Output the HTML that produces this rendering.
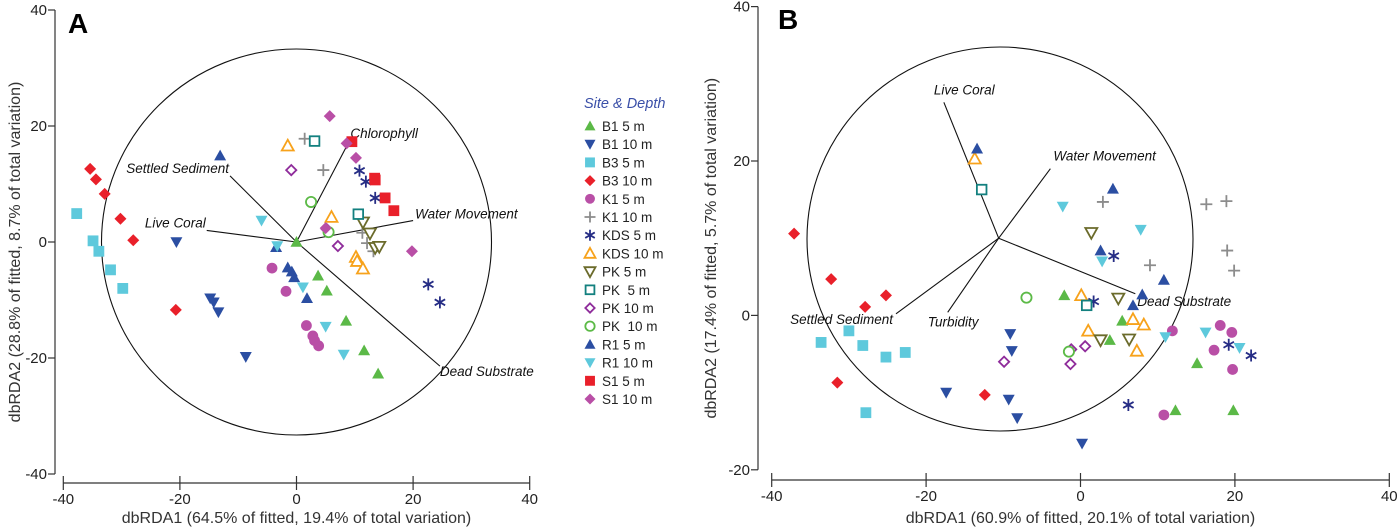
<!DOCTYPE html>
<html><head><meta charset="utf-8"><style>
html,body{margin:0;padding:0;background:#fff;}
svg{display:block;font-family:"Liberation Sans",Arial,sans-serif;}
</style></head><body>
<svg id="chart" width="1400" height="527" viewBox="0 0 1400 527" xmlns="http://www.w3.org/2000/svg"></svg>
<script>
// Group definitions
const groupNames = ["B1 5 m","B1 10 m","B3 5 m","B3 10 m","K1 5 m","K1 10 m","KDS 5 m","KDS 10 m","PK 5 m","PK  5 m","PK 10 m","PK  10 m","R1 5 m","R1 10 m","S1 5 m","S1 10 m"];
const groupShapes = ["up","down","square","diamond","circle","plus","star","upOpen","downOpen","squareOpen","diamondOpen","circleOpen","up","down","square","diamond"];
const groupColors = ["#5bb947","#2b4ea2","#5ec9dc","#e9202a","#b94fa6","#8c8c8c","#262d85","#f7a21b","#6b6b2b","#13807f","#8f2c9b","#5cba47","#2b4ea2","#5ec9dc","#e9202a","#b94fa6"];

// Panel A data (x, y per group)
const aX = [
 [0,3.7,5.2,8.5,11.6,14],
 [-20.6,-14.8,-14.2,-13.4,-8.7],
 [-37.7,-34.9,-33.9,-31.9,-29.8],
 [-35.4,-34.4,-32.9,-30.2,-28,-20.7],
 [-4.2,-1.8,1.7,2.8,3.1,3.8],
 [1.4,4.6,11.3,12.1,13.2],
 [10.8,11.9,13.5,22.6,24.6],
 [-1.5,6,10.2,10.4,11.4],
 [11.4,12.6,13.5,14.2],
 [3.1,10.6],
 [-0.9,5.2,7.1],
 [2.5,5.5],
 [-13.1,-3.5,-1.5,-0.8,-0.4,1.8],
 [-6,-3.3,1.1,5,8.1],
 [9.5,13.4,13.5,15.2,16.7],
 [5.7,8.6,10.2,19.8,5.0]
];
const aY = [
 [0,-5.8,-8.4,-13.6,-18.7,-22.7],
 [0,-9.7,-10.4,-12.1,-19.8],
 [4.9,0.2,-1.6,-4.8,-8],
 [12.6,10.8,8.3,4,0.3,-11.7],
 [-4.5,-8.5,-14.4,-16.2,-17,-17.9],
 [17.8,12.4,1.6,-0.2,-1.6],
 [12.3,10.4,7.6,-7.3,-10.4],
 [16.6,4.3,-2.6,-3.3,-4.6],
 [3.4,1.5,-1,-0.8],
 [17.4,4.8],
 [12.4,2.2,-0.7],
 [6.9,1.7],
 [14.9,-0.9,-4.4,-5.1,-6.1,-9.7],
 [3.7,-0.7,-7.8,-14.6,-19.4],
 [17.3,11,10.7,7.6,5.4],
 [21.7,17,14.5,-1.6,2.4]
];
const aVecNames = ["Chlorophyll","Settled Sediment","Live Coral","Water Movement","Dead Substrate"];
const aVecX = [8.9,-11.4,-15.4,20,24.6];
const aVecY = [17.1,11.4,2,3.7,-21.4];

// Panel B data
const bX = [
 [-2.1,5.4,3.8,15.1,12.3,19.8],
 [-9.1,-8.9,-17.4,-9.3,-8.2,0.2],
 [-30,-33.6,-28.2,-25.2,-22.7,-27.8],
 [-37.1,-32.3,-25.2,-27.9,-31.5,-12.4],
 [11.9,18.1,19.6,17.3,19.7,10.8],
 [2.9,16.3,18.9,19,19.9,9],
 [4.3,1.7,19.2,22.1,6.2],
 [-13.7,0.1,6.8,8.2,1,7.3],
 [1.4,4.9,2.6,6.3],
 [-12.8,0.8],
 [-9.9,-1.3,-1.2,0.6],
 [-7,-1.5],
 [-13.4,4.2,2.6,10.8,8,6.8],
 [-2.3,7.8,2.8,11,16.2,20.6],
 [],
 []
];
const bY = [
 [2.6,-0.7,-3.2,-6.2,-12.3,-12.3],
 [-2.4,-4.6,-10,-10.9,-13.3,-16.6],
 [-2,-3.5,-3.9,-5.4,-4.8,-12.6],
 [10.6,4.7,2.6,1.1,-8.7,-10.3],
 [-2,-1.3,-2.2,-4.5,-7,-12.9],
 [14.7,14.4,14.8,8.4,5.8,6.5],
 [7.7,1.8,-3.8,-5.2,-11.6],
 [20.3,2.6,-0.5,-1.2,-2,-4.6],
 [10.7,2.2,-3.2,-3.1],
 [16.3,1.3],
 [-6,-6.3,-4.4,-4],
 [2.3,-4.7],
 [21.6,16.4,8.4,4.6,2.7,1.3],
 [14.1,11.1,7,-2.8,-2.2,-4.2],
 [],
 []
];
const bOrigin = [-10.6,10];
const bVecNames = ["Live Coral","Water Movement","Settled Sediment","Turbidity","Dead Substrate"];
const bVecX = [-17.7,-3.9,-23.9,-17.2,7.1];
const bVecY = [27.6,19,0.2,0.4,2.8];

const aXTicks = [-40,-20,0,20,40];
const aYTicks = [40,20,0,-20,-40];
const bXTicks = [-40,-20,0,20,40];
const bYTicks = [40,20,0,-20];

const NS = "http://www.w3.org/2000/svg";
const svg = document.getElementById("chart");
function mk(tag, attrs, parent, text){
  const e = document.createElementNS(NS, tag);
  for (const k in attrs) e.setAttribute(k, attrs[k]);
  if (text !== undefined) e.textContent = text;
  (parent || svg).appendChild(e);
  return e;
}

const axA = { sx: v => 296.5 + v*5.83, sy: v => 242 - v*5.8 };
const axB = { sx: v => 1080.5 + v*7.72, sy: v => 315.4 - v*7.72 };

function drawMarker(g, shape, color, x, y, s){
  const r = s/2;
  const open = shape.endsWith("Open");
  const fill = open ? "#fff" : color;
  const stroke = color;
  const sw = open ? 1.8 : 0;
  const base = shape.replace("Open","");
  let el;
  if (base === "up") el = mk("polygon",{points:`${x},${y-r} ${x+r},${y+r*0.8} ${x-r},${y+r*0.8}`,fill,stroke,"stroke-width":sw},g);
  else if (base === "down") el = mk("polygon",{points:`${x-r},${y-r*0.8} ${x+r},${y-r*0.8} ${x},${y+r}`,fill,stroke,"stroke-width":sw},g);
  else if (base === "square") { const q = open? r*0.8 : r*0.9; el = mk("rect",{x:x-q,y:y-q,width:2*q,height:2*q,fill,stroke,"stroke-width":sw},g); }
  else if (base === "diamond") { const q = open? r*0.85 : r; el = mk("polygon",{points:`${x},${y-q} ${x+q},${y} ${x},${y+q} ${x-q},${y}`,fill,stroke,"stroke-width":sw},g); }
  else if (base === "circle") el = mk("circle",{cx:x,cy:y,r:open? r*0.85 : r*0.9,fill,stroke,"stroke-width":sw},g);
  else if (base === "plus") el = mk("path",{d:`M${x-r} ${y}H${x+r}M${x} ${y-r}V${y+r}`,stroke,"stroke-width":1.8,fill:"none"},g);
  else if (base === "star") el = mk("path",{d:`M${x} ${y-r}V${y+r}M${x-r*0.87} ${y-r*0.5}L${x+r*0.87} ${y+r*0.5}M${x-r*0.87} ${y+r*0.5}L${x+r*0.87} ${y-r*0.5}`,stroke,"stroke-width":1.8,fill:"none"},g);
  return el;
}

function drawAxes(ax, xTicks, yTicks, yAxisX, xAxisY, xLo, xHi, yLo, yHi, xTitle, yTitle, prefix, ytx){
  const g = mk("g",{});
  
  
  mk("line",{x1:yAxisX,y1:ax.sy(yHi),x2:yAxisX,y2:ax.sy(yLo),stroke:"#333","stroke-width":1.2},g);
  mk("line",{x1:ax.sx(xLo),y1:xAxisY,x2:ax.sx(xHi),y2:xAxisY,stroke:"#333","stroke-width":1.2},g);
  yTicks.forEach(t => {
    mk("line",{x1:yAxisX-7,y1:ax.sy(t),x2:yAxisX,y2:ax.sy(t),stroke:"#333","stroke-width":1.2},g);
    const tl = mk("text",{x:yAxisX-8,y:ax.sy(t)+5,"text-anchor":"end","font-size":15,fill:"#222"},g,String(t));
    
    
  });
  xTicks.forEach(t => {
    mk("line",{x1:ax.sx(t),y1:xAxisY-7,x2:ax.sx(t),y2:xAxisY+7,stroke:"#333","stroke-width":1.2},g);
    const tl = mk("text",{x:ax.sx(t),y:xAxisY+21,"text-anchor":"middle","font-size":15,fill:"#222"},g,String(t));
    
    
  });
  const xt = mk("text",{x:ax.sx(0),y:523,"text-anchor":"middle","font-size":16,fill:"#333"},g,xTitle);
  
  
  const cy = (ax.sy(yHi)+ax.sy(yLo))/2 + 10;
  const yt = mk("text",{x:0,y:0,"text-anchor":"middle","font-size":16,fill:"#333",transform:`translate(${ytx},${cy}) rotate(-90)`},g,yTitle);
  
  
}

function drawPanel(ax, X, Y, prefix){
  const g = mk("g",{});
  
  
  for (let i=0;i<X.length;i++){
    for (let j=0;j<X[i].length;j++){
      const m = drawMarker(g, groupShapes[i], groupColors[i], ax.sx(X[i][j]), ax.sy(Y[i][j]), 12);
      
      
    }
  }
}

function drawVectors(ax, ox, oy, VX, VY, names, labelPos, prefix){
  const g = mk("g",{});
  
  
  for (let i=0;i<VX.length;i++){
    const l = mk("line",{x1:ax.sx(ox),y1:ax.sy(oy),x2:ax.sx(VX[i]),y2:ax.sy(VY[i]),stroke:"#111","stroke-width":1.1},g);
    
    
    const p = labelPos[i];
    const t = mk("text",{x:ax.sx(VX[i])+p[0],y:ax.sy(VY[i])+p[1],"text-anchor":p[2],"font-size":13.5,"font-style":"italic",fill:"#111"},g,names[i]);
    
    
  }
}

// Panel A
drawAxes(axA, aXTicks, aYTicks, 55, 483, -40, 40, -40, 40, "dbRDA1 (64.5% of fitted, 19.4% of total variation)", "dbRDA2 (28.8% of fitted, 8.7% of total variation)", "panel-a", 20);
const cA = mk("ellipse",{cx:axA.sx(0),cy:axA.sy(0),rx:195,ry:193,fill:"none",stroke:"#111","stroke-width":1.1});


drawVectors(axA, 0, 0, aVecX, aVecY, aVecNames, [[2,-5,"start"],[-1,-3,"end"],[-1,-3,"end"],[2,-2,"start"],[0,10,"start"]], "panel-a");
drawPanel(axA, aX, aY, "panel-a");
const lA = mk("text",{x:68,y:33,"font-size":28,"font-weight":"bold",fill:"#000"},svg,"A");



// Legend
const lg = mk("g",{});


const lt = mk("text",{x:584,y:108,"font-size":14.5,"font-style":"italic",fill:"#3a4fa8"},lg,"Site & Depth");


for (let i=0;i<groupNames.length;i++){
  const y = 126 + i*18.2;
  const m = drawMarker(lg, groupShapes[i], groupColors[i], 590, y, 11);
  
  
  const t = mk("text",{x:602,y:y+5,"font-size":13.5,fill:"#222"},lg,groupNames[i]);
  t.setAttribute('style','white-space:pre');
  
  
}

// Panel B
drawAxes(axB, bXTicks, bYTicks, 758, 480, -40, 40, -20, 40, "dbRDA1 (60.9% of fitted, 20.1% of total variation)", "dbRDA2 (17.4% of fitted, 5.7% of total variation)", "panel-b", 716);
const cB = mk("ellipse",{cx:1000,cy:239,rx:193,ry:192,fill:"none",stroke:"#111","stroke-width":1.1});


drawVectors(axB, bOrigin[0], bOrigin[1], bVecX, bVecY, bVecNames, [[-10,-8,"start"],[3,-8,"start"],[-3,10,"end"],[-20,14,"start"],[2,12,"start"]], "panel-b");
drawPanel(axB, bX, bY, "panel-b");
const lB = mk("text",{x:778,y:29,"font-size":28,"font-weight":"bold",fill:"#000"},svg,"B");


</script>
</body></html>
